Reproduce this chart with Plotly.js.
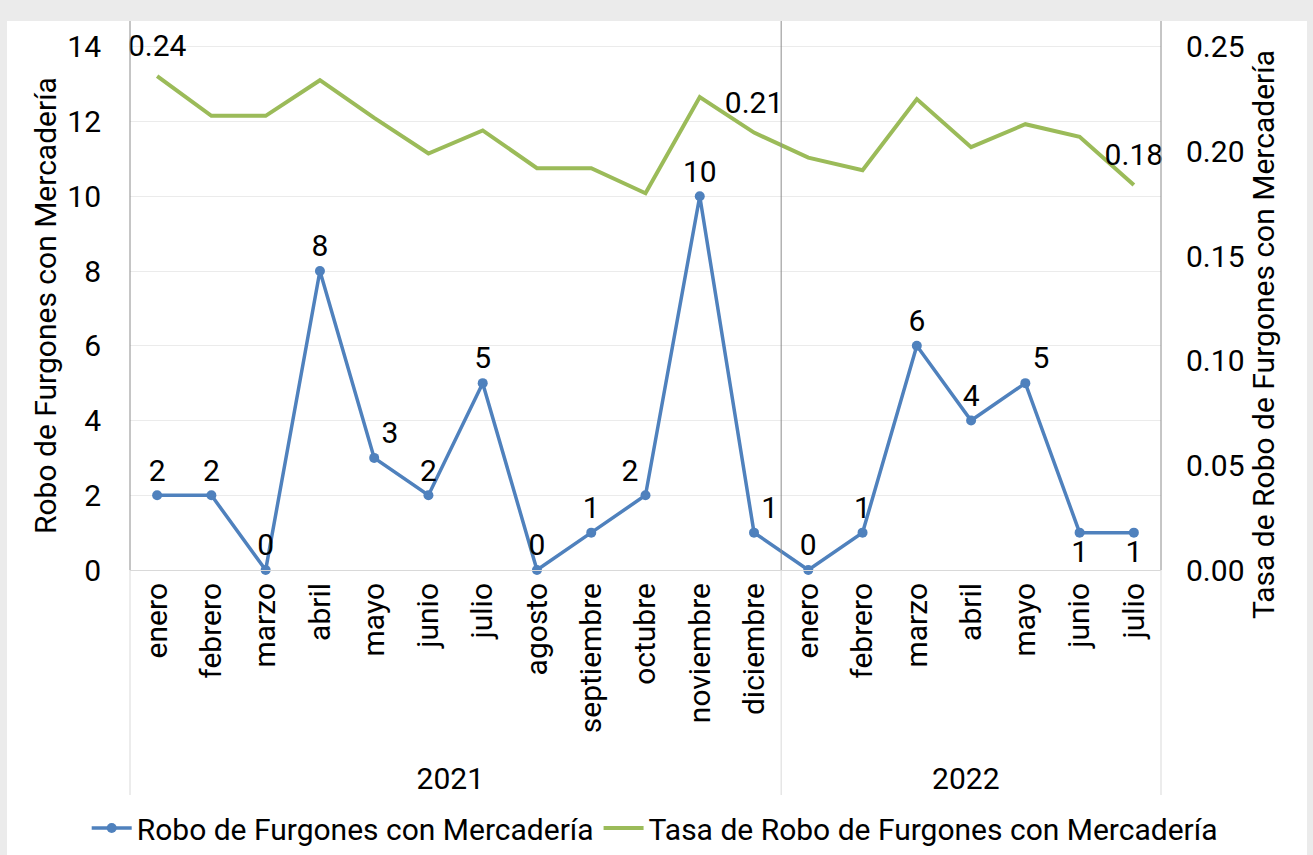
<!DOCTYPE html>
<html>
<head>
<meta charset="utf-8">
<script src="https://cdn.plot.ly/plotly-3.0.1.min.js"></script>
<style>
  html, body { margin: 0; padding: 0; background: #ebebeb; width: 1313px; height: 855px; overflow: hidden; }
  #chart { position: absolute; left: 7px; top: 21px; width: 1300px; height: 834px; background: #ffffff; }
</style>
</head>
<body>
<div id="chart"></div>
<script>
// ---- data ----
const years = ['2021','2021','2021','2021','2021','2021','2021','2021','2021','2021','2021','2021',
               '2022','2022','2022','2022','2022','2022','2022'];
const months = ['enero','febrero','marzo','abril','mayo','junio','julio','agosto','septiembre','octubre','noviembre','diciembre',
                'enero','febrero','marzo','abril','mayo','junio','julio'];
const robo = [2, 2, 0, 8, 3, 2, 5, 0, 1, 2, 10, 1, 0, 1, 6, 4, 5, 1, 1];
const tasa = [0.236, 0.217, 0.217, 0.234, 0.216, 0.199, 0.210, 0.192, 0.192, 0.180, 0.226, 0.209,
              0.197, 0.191, 0.225, 0.202, 0.213, 0.207, 0.184];
const tasaLabeled = [0, 11, 18];
const roboLabelPos = ['top center','top center','top center','top center','top right','top center','top center',
                      'top center','top center','top left','top center','top right','top center','top center',
                      'top center','top center','top right','bottom center','bottom center'];

const seriesNames = ['Robo de Furgones con Mercadería', 'Tasa de Robo de Furgones con Mercadería'];

const FONT = 'Roboto, "Open Sans", sans-serif';
const FS = 30;
const BLUE = '#4f81bd';
const GREEN = '#9bbb59';

const x = [years, months];

const traceRobo = {
  type: 'scatter', mode: 'lines+markers+text',
  x: x, y: robo, name: seriesNames[0],
  line: { color: BLUE, width: 3.5 },
  marker: { color: BLUE, size: 10 },
  text: robo.map(String),
  textposition: roboLabelPos,
  textfont: { family: FONT, size: FS, color: '#000' },
  cliponaxis: false,
  yaxis: 'y'
};
const traceTasa = {
  type: 'scatter', mode: 'lines+markers+text',
  x: x, y: tasa, name: seriesNames[1],
  line: { color: GREEN, width: 4 },
  // invisible markers: only used to give the data labels some clearance above the line
  marker: { color: 'rgba(0,0,0,0)', size: 18, opacity: 0, line: { width: 0, color: 'rgba(0,0,0,0)' } },
  text: tasa.map((v, i) => tasaLabeled.includes(i) ? v.toFixed(2) : ''),
  textposition: 'top center',
  textfont: { family: FONT, size: FS, color: '#000' },
  cliponaxis: false,
  yaxis: 'y2'
};

const plotH = 549; // plot height in px (for shape extents)
const belowFrac = -(795 - 570) / plotH;
const nCat = months.length;
const splitIdx = years.indexOf('2022');

const vlines = [];
[0, splitIdx / nCat, 1].forEach(px => {
  vlines.push({ type: 'line', xref: 'paper', yref: 'paper', x0: px, x1: px, y0: 0, y1: 1,
                line: { color: '#8c8c8c', width: 1 }, layer: 'above' });
  vlines.push({ type: 'line', xref: 'paper', yref: 'paper', x0: px, x1: px, y0: belowFrac, y1: 0,
                line: { color: '#d9d9d9', width: 1 }, layer: 'above' });
});

const titleFont = { family: FONT, size: FS, color: '#000' };

const layout = {
  width: 1300, height: 834,
  margin: { l: 123, r: 146, t: 0, b: 285 },
  paper_bgcolor: '#ffffff', plot_bgcolor: '#ffffff',
  font: { family: FONT, size: FS, color: '#000' },
  showlegend: true,
  legend: {
    orientation: 'h', xref: 'paper', yref: 'paper',
    x: -0.042, xanchor: 'left', y: -0.47, yanchor: 'middle',
    font: { family: FONT, size: FS, color: '#000' },
    itemwidth: 40, traceorder: 'normal', bgcolor: 'rgba(0,0,0,0)'
  },
  xaxis: {
    type: 'multicategory',
    tickangle: -90,
    showline: true, linecolor: '#d9d9d9', linewidth: 1,
    showgrid: false, ticks: '',
    showdividers: false,
    tickfont: { family: FONT, size: FS, color: '#000' },
    range: [-0.5, nCat - 0.5]
  },
  yaxis: {
    range: [0, 14.69], dtick: 2, tick0: 0,
    showgrid: true, gridcolor: '#ebebeb', gridwidth: 1,
    zeroline: false, showline: false, ticks: '',
    ticklabelstandoff: 28,
    tickfont: { family: FONT, size: FS, color: '#000' }
  },
  yaxis2: {
    overlaying: 'y', side: 'right',
    range: [0, 0.2623], dtick: 0.05, tick0: 0, tickformat: '.2f',
    showgrid: false, zeroline: false, showline: false, ticks: '',
    ticklabelstandoff: 24,
    tickfont: { family: FONT, size: FS, color: '#000' }
  },
  annotations: [
    { text: seriesNames[0], xref: 'paper', yref: 'paper', x: -0.0815, y: 0.4827,
      xanchor: 'center', yanchor: 'middle', textangle: -90, showarrow: false, font: titleFont },
    { text: seriesNames[1], xref: 'paper', yref: 'paper', x: 1.0999, y: 0.4299,
      xanchor: 'center', yanchor: 'middle', textangle: -90, showarrow: false, font: titleFont }
  ],
  shapes: vlines
};

Plotly.newPlot('chart', [traceRobo, traceTasa], layout, { displayModeBar: false, staticPlot: true });
</script>
</body>
</html>
